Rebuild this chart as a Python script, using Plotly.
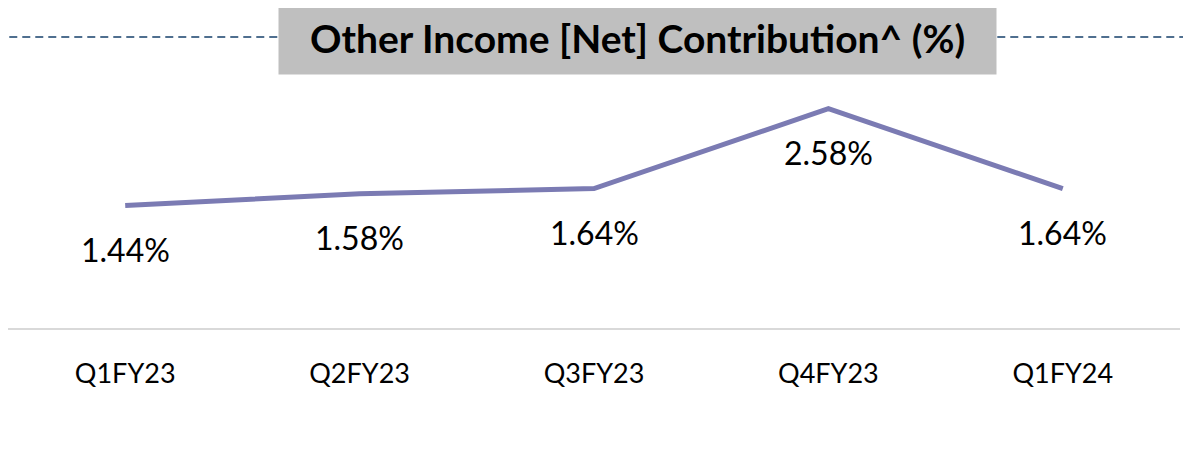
import plotly.graph_objects as go

# dados do gráfico
trimestres = ['Q1FY23', 'Q2FY23', 'Q3FY23', 'Q4FY23', 'Q1FY24']
contribuicao = [1.44, 1.58, 1.64, 2.58, 1.64]
rotulos = ['1.44%', '1.58%', '1.64%', '2.58%', '1.64%']

titulo = 'Other Income [Net] Contribution^ (%)'
fonte = 'Lato'

fig = go.Figure(data=[go.Scatter(
    x=trimestres,
    y=contribuicao,
    mode='lines',
    line=dict(color='#7B7BB3', width=5),
    hoverinfo='skip'
)])

# rótulos abaixo da linha
for q, v, r in zip(trimestres, contribuicao, rotulos):
    fig.add_annotation(x=q, y=v, text=r, showarrow=False,
                       yshift=-44, yanchor='middle',
                       font=dict(family=fonte, size=32, color='#000000'))

# linha tracejada atrás do título
fig.add_shape(type='line', xref='paper', yref='paper',
              x0=-0.01, x1=1.02, y0=1.141, y1=1.141, layer='below',
              line=dict(color='#4F6F8F', width=2, dash='8px,5px'))

# caixa do título
fig.add_annotation(xref='paper', yref='paper', x=0.537, y=1.138,
                   xanchor='center', yanchor='middle', showarrow=False,
                   text='<b>' + titulo + '</b>', width=715, height=71,
                   bgcolor='#BFBFBF', align='center',
                   font=dict(family=fonte, size=39, color='#000000'))

# a página tem 8px de margem no body, por isso a figura é um pouco menor
fig.update_layout(
    width=1183, height=458,
    plot_bgcolor='white', paper_bgcolor='white',
    margin=dict(l=0, r=11, t=65, b=138),
    showlegend=False,
    font=dict(family=fonte, color='#000000'),
    xaxis=dict(
        range=[-0.5, 4.5],
        showgrid=False, showline=True, linecolor='#D9D9D9', linewidth=1.5,
        ticks='outside', ticklen=21, tickcolor='rgba(0,0,0,0)',
        tickfont=dict(family=fonte, size=27, color='#000000'),
        zeroline=False
    ),
    yaxis=dict(
        range=[0, 3], visible=False, showgrid=False, zeroline=False
    )
)

fig.write_html('out.html')
